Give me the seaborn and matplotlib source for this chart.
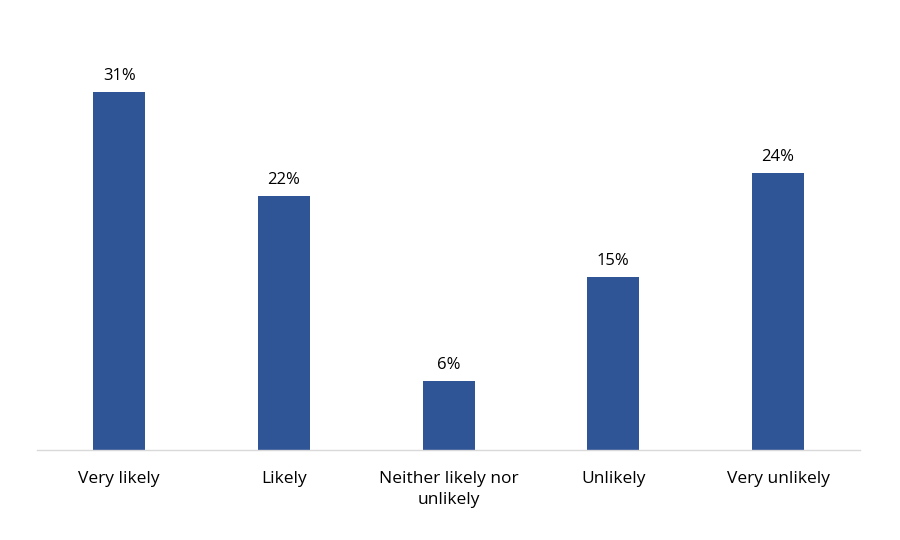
import matplotlib
matplotlib.use("Agg")
import matplotlib.pyplot as plt
import seaborn as sns
import pandas as pd

categories = ["Very likely", "Likely", "Neither likely nor\nunlikely", "Unlikely", "Very unlikely"]
values = [31, 22, 6, 15, 24]

df = pd.DataFrame({"category": categories, "value": values})

sns.set_theme(style="white")
plt.rcParams["font.family"] = ["Open Sans", "DejaVu Sans"]

fig = plt.figure(figsize=(9, 5.4), dpi=100)
ax = fig.add_axes([0.041, 0.1667, 0.915, 0.748])

sns.barplot(data=df, x="category", y="value", color="#2F5597", width=0.315,
            saturation=1, linewidth=0, ax=ax)

for p, v in zip(ax.patches, values):
    ax.text(p.get_x() + p.get_width() / 2, p.get_height() + 0.7, f"{v}%",
            ha="center", va="bottom", fontsize=12, color="#000000")

ax.set_xlim(-0.5, 4.5)
ax.set_ylim(0, 35)
ax.set_xlabel("")
ax.set_ylabel("")
ax.set_yticks([])
ax.tick_params(axis="x", length=0, labelsize=12.5, colors="#000000", pad=15)
for lbl in ax.get_xticklabels():
    lbl.set_linespacing(1.45)
for s in ["top", "left", "right"]:
    ax.spines[s].set_visible(False)
ax.spines["bottom"].set_color("#D9D9D9")
ax.spines["bottom"].set_linewidth(1)

fig.savefig("out.png", dpi=100)
